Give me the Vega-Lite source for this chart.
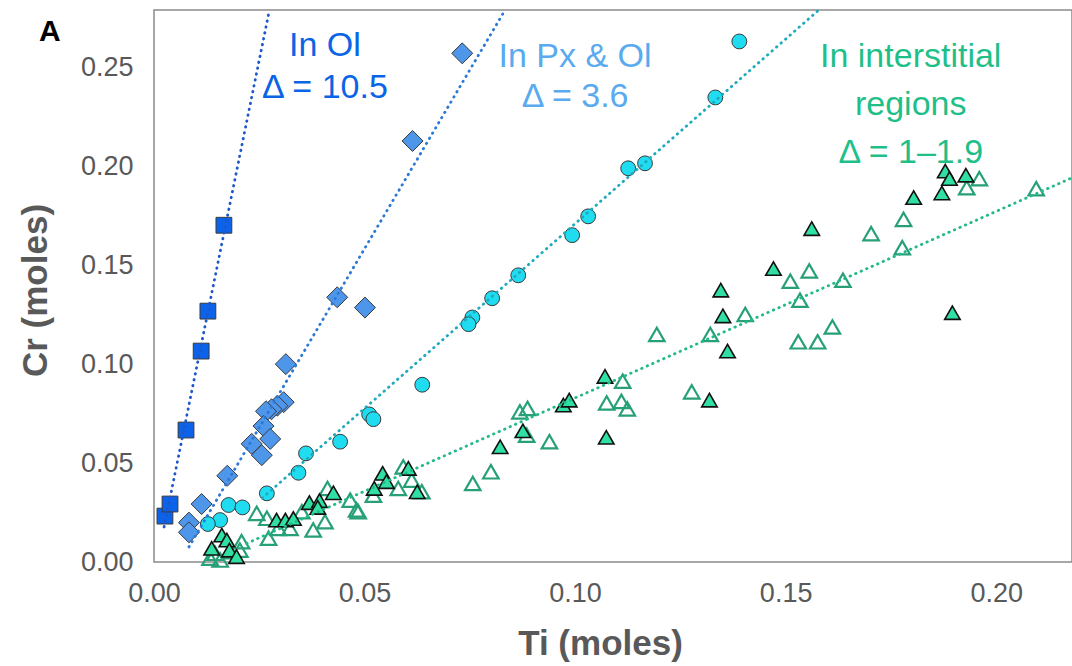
{
  "$schema": "https://vega.github.io/schema/vega-lite/v6.json",
  "width": 918,
  "height": 552,
  "autosize": {"type": "none"},
  "padding": {"left": 154, "top": 10, "right": 0, "bottom": 104},
  "background": "white",
  "config": {
    "view": {"stroke": "#8a8a8a", "strokeWidth": 1.5},
    "font": "Liberation Sans"
  },
  "title": {
    "text": "A",
    "anchor": "start",
    "frame": "group",
    "orient": "top",
    "offset": 0,
    "dx": -115,
    "dy": 42,
    "fontSize": 30,
    "fontWeight": "bold",
    "color": "#000000",
    "font": "Liberation Sans"
  },
  "datasets": {
    "pts": [
      {"ti": 0.0026, "cr": 0.0232, "grp": "ol"},
      {"ti": 0.0038, "cr": 0.0293, "grp": "ol"},
      {"ti": 0.0076, "cr": 0.0667, "grp": "ol"},
      {"ti": 0.0112, "cr": 0.1066, "grp": "ol"},
      {"ti": 0.0128, "cr": 0.1268, "grp": "ol"},
      {"ti": 0.0166, "cr": 0.1702, "grp": "ol"},

      {"ti": 0.0732, "cr": 0.2571, "grp": "pxol"},
      {"ti": 0.0614, "cr": 0.2128, "grp": "pxol"},
      {"ti": 0.0435, "cr": 0.1338, "grp": "pxol"},
      {"ti": 0.0501, "cr": 0.1286, "grp": "pxol"},
      {"ti": 0.0313, "cr": 0.1000, "grp": "pxol"},
      {"ti": 0.0308, "cr": 0.0808, "grp": "pxol"},
      {"ti": 0.0293, "cr": 0.0790, "grp": "pxol"},
      {"ti": 0.0279, "cr": 0.0772, "grp": "pxol"},
      {"ti": 0.0266, "cr": 0.0762, "grp": "pxol"},
      {"ti": 0.0260, "cr": 0.0687, "grp": "pxol"},
      {"ti": 0.0276, "cr": 0.0622, "grp": "pxol"},
      {"ti": 0.0232, "cr": 0.0597, "grp": "pxol"},
      {"ti": 0.0256, "cr": 0.0540, "grp": "pxol"},
      {"ti": 0.0174, "cr": 0.0436, "grp": "pxol"},
      {"ti": 0.0113, "cr": 0.0293, "grp": "pxol"},
      {"ti": 0.0083, "cr": 0.0199, "grp": "pxol"},
      {"ti": 0.0083, "cr": 0.0150, "grp": "pxol"},

      {"ti": 0.1390, "cr": 0.2631, "grp": "circ"},
      {"ti": 0.1333, "cr": 0.2348, "grp": "circ"},
      {"ti": 0.1166, "cr": 0.2015, "grp": "circ"},
      {"ti": 0.1126, "cr": 0.1990, "grp": "circ"},
      {"ti": 0.1031, "cr": 0.1747, "grp": "circ"},
      {"ti": 0.0993, "cr": 0.1652, "grp": "circ"},
      {"ti": 0.0865, "cr": 0.1449, "grp": "circ"},
      {"ti": 0.0803, "cr": 0.1333, "grp": "circ"},
      {"ti": 0.0756, "cr": 0.1236, "grp": "circ"},
      {"ti": 0.0747, "cr": 0.1202, "grp": "circ"},
      {"ti": 0.0637, "cr": 0.0896, "grp": "circ"},
      {"ti": 0.0511, "cr": 0.0746, "grp": "circ"},
      {"ti": 0.0521, "cr": 0.0722, "grp": "circ"},
      {"ti": 0.0442, "cr": 0.0608, "grp": "circ"},
      {"ti": 0.0361, "cr": 0.0549, "grp": "circ"},
      {"ti": 0.0343, "cr": 0.0451, "grp": "circ"},
      {"ti": 0.0268, "cr": 0.0347, "grp": "circ"},
      {"ti": 0.0177, "cr": 0.0288, "grp": "circ"},
      {"ti": 0.0210, "cr": 0.0276, "grp": "circ"},
      {"ti": 0.0157, "cr": 0.0212, "grp": "circ"},
      {"ti": 0.0128, "cr": 0.0192, "grp": "circ"},

      {"ti": 0.1879, "cr": 0.1976, "grp": "filled"},
      {"ti": 0.1889, "cr": 0.1938, "grp": "filled"},
      {"ti": 0.1928, "cr": 0.1955, "grp": "filled"},
      {"ti": 0.1871, "cr": 0.1865, "grp": "filled"},
      {"ti": 0.1804, "cr": 0.1842, "grp": "filled"},
      {"ti": 0.1562, "cr": 0.1685, "grp": "filled"},
      {"ti": 0.1471, "cr": 0.1483, "grp": "filled"},
      {"ti": 0.1346, "cr": 0.1374, "grp": "filled"},
      {"ti": 0.1351, "cr": 0.1244, "grp": "filled"},
      {"ti": 0.1362, "cr": 0.1066, "grp": "filled"},
      {"ti": 0.1896, "cr": 0.1260, "grp": "filled"},
      {"ti": 0.1071, "cr": 0.0938, "grp": "filled"},
      {"ti": 0.1319, "cr": 0.0818, "grp": "filled"},
      {"ti": 0.1074, "cr": 0.0630, "grp": "filled"},
      {"ti": 0.0972, "cr": 0.0793, "grp": "filled"},
      {"ti": 0.0986, "cr": 0.0818, "grp": "filled"},
      {"ti": 0.0876, "cr": 0.0663, "grp": "filled"},
      {"ti": 0.0822, "cr": 0.0582, "grp": "filled"},
      {"ti": 0.0604, "cr": 0.0473, "grp": "filled"},
      {"ti": 0.0543, "cr": 0.0448, "grp": "filled"},
      {"ti": 0.0552, "cr": 0.0406, "grp": "filled"},
      {"ti": 0.0523, "cr": 0.0372, "grp": "filled"},
      {"ti": 0.0625, "cr": 0.0355, "grp": "filled"},
      {"ti": 0.0426, "cr": 0.0350, "grp": "filled"},
      {"ti": 0.0369, "cr": 0.0300, "grp": "filled"},
      {"ti": 0.0393, "cr": 0.0310, "grp": "filled"},
      {"ti": 0.0389, "cr": 0.0276, "grp": "filled"},
      {"ti": 0.0291, "cr": 0.0212, "grp": "filled"},
      {"ti": 0.0312, "cr": 0.0212, "grp": "filled"},
      {"ti": 0.0331, "cr": 0.0220, "grp": "filled"},
      {"ti": 0.0161, "cr": 0.0136, "grp": "filled"},
      {"ti": 0.0173, "cr": 0.0111, "grp": "filled"},
      {"ti": 0.0137, "cr": 0.0069, "grp": "filled"},
      {"ti": 0.0179, "cr": 0.0060, "grp": "filled"},
      {"ti": 0.0196, "cr": 0.0027, "grp": "filled"},

      {"ti": 0.1960, "cr": 0.1938, "grp": "hollow"},
      {"ti": 0.1930, "cr": 0.1892, "grp": "hollow"},
      {"ti": 0.2095, "cr": 0.1887, "grp": "hollow"},
      {"ti": 0.1780, "cr": 0.1732, "grp": "hollow"},
      {"ti": 0.1703, "cr": 0.1660, "grp": "hollow"},
      {"ti": 0.1777, "cr": 0.1589, "grp": "hollow"},
      {"ti": 0.1556, "cr": 0.1471, "grp": "hollow"},
      {"ti": 0.1511, "cr": 0.1419, "grp": "hollow"},
      {"ti": 0.1636, "cr": 0.1424, "grp": "hollow"},
      {"ti": 0.1534, "cr": 0.1323, "grp": "hollow"},
      {"ti": 0.1404, "cr": 0.1251, "grp": "hollow"},
      {"ti": 0.1321, "cr": 0.1150, "grp": "hollow"},
      {"ti": 0.1194, "cr": 0.1150, "grp": "hollow"},
      {"ti": 0.1611, "cr": 0.1188, "grp": "hollow"},
      {"ti": 0.1530, "cr": 0.1113, "grp": "hollow"},
      {"ti": 0.1576, "cr": 0.1113, "grp": "hollow"},
      {"ti": 0.1113, "cr": 0.0914, "grp": "hollow"},
      {"ti": 0.1277, "cr": 0.0860, "grp": "hollow"},
      {"ti": 0.1075, "cr": 0.0804, "grp": "hollow"},
      {"ti": 0.1110, "cr": 0.0812, "grp": "hollow"},
      {"ti": 0.1124, "cr": 0.0774, "grp": "hollow"},
      {"ti": 0.0869, "cr": 0.0759, "grp": "hollow"},
      {"ti": 0.0887, "cr": 0.0776, "grp": "hollow"},
      {"ti": 0.0885, "cr": 0.0641, "grp": "hollow"},
      {"ti": 0.0939, "cr": 0.0608, "grp": "hollow"},
      {"ti": 0.0757, "cr": 0.0397, "grp": "hollow"},
      {"ti": 0.0800, "cr": 0.0456, "grp": "hollow"},
      {"ti": 0.0592, "cr": 0.0481, "grp": "hollow"},
      {"ti": 0.0612, "cr": 0.0414, "grp": "hollow"},
      {"ti": 0.0580, "cr": 0.0372, "grp": "hollow"},
      {"ti": 0.0636, "cr": 0.0355, "grp": "hollow"},
      {"ti": 0.0521, "cr": 0.0338, "grp": "hollow"},
      {"ti": 0.0485, "cr": 0.0254, "grp": "hollow"},
      {"ti": 0.0466, "cr": 0.0313, "grp": "hollow"},
      {"ti": 0.0412, "cr": 0.0372, "grp": "hollow"},
      {"ti": 0.0481, "cr": 0.0263, "grp": "hollow"},
      {"ti": 0.0406, "cr": 0.0204, "grp": "hollow"},
      {"ti": 0.0378, "cr": 0.0162, "grp": "hollow"},
      {"ti": 0.0351, "cr": 0.0254, "grp": "hollow"},
      {"ti": 0.0244, "cr": 0.0246, "grp": "hollow"},
      {"ti": 0.0268, "cr": 0.0221, "grp": "hollow"},
      {"ti": 0.0272, "cr": 0.0120, "grp": "hollow"},
      {"ti": 0.0295, "cr": 0.0170, "grp": "hollow"},
      {"ti": 0.0323, "cr": 0.0170, "grp": "hollow"},
      {"ti": 0.0208, "cr": 0.0103, "grp": "hollow"},
      {"ti": 0.0133, "cr": 0.0019, "grp": "hollow"},
      {"ti": 0.0157, "cr": 0.0010, "grp": "hollow"},
      {"ti": 0.0180, "cr": 0.0052, "grp": "hollow"},
      {"ti": 0.0145, "cr": 0.0044, "grp": "hollow"},
      {"ti": 0.0204, "cr": 0.0060, "grp": "hollow"}
    ],
    "lines": [
      {"ti": 0.0024, "cr": 0.0177, "grp": "ol"},
      {"ti": 0.0273, "cr": 0.2778, "grp": "ol"},
      {"ti": 0.0083, "cr": 0.0076, "grp": "pxol"},
      {"ti": 0.0829, "cr": 0.2773, "grp": "pxol"},
      {"ti": 0.0257, "cr": 0.0323, "grp": "circ"},
      {"ti": 0.1576, "cr": 0.2785, "grp": "circ"},
      {"ti": 0.0220, "cr": 0.0094, "grp": "tri"},
      {"ti": 0.2180, "cr": 0.1942, "grp": "tri"}
    ],
    "labels": [
      {"ti": 0.0406, "cr": 0.2555, "grp": "ol", "txt": "In Ol"},
      {"ti": 0.0406, "cr": 0.2344, "grp": "ol", "txt": "Δ = 10.5"},
      {"ti": 0.1000, "cr": 0.2503, "grp": "pxol", "txt": "In Px & Ol"},
      {"ti": 0.1000, "cr": 0.2300, "grp": "pxol", "txt": "Δ = 3.6"},
      {"ti": 0.1797, "cr": 0.2503, "grp": "inter", "txt": "In interstitial"},
      {"ti": 0.1797, "cr": 0.2260, "grp": "inter", "txt": "regions"},
      {"ti": 0.1797, "cr": 0.2017, "grp": "inter", "txt": "Δ = 1–1.9"}
    ]
  },
  "encoding": {
    "x": {
      "field": "ti",
      "type": "quantitative",
      "scale": {"domain": [0, 0.218], "nice": false, "zero": false},
      "axis": {
        "values": [0, 0.05, 0.1, 0.15, 0.2],
        "format": ".2f",
        "ticks": false,
        "grid": false,
        "domain": false,
        "labelFlush": false,
        "labelFont": "Liberation Sans",
        "labelFontSize": 27,
        "labelColor": "#595959",
        "labelPadding": 18,
        "title": "Ti (moles)",
        "titleFont": "Liberation Sans",
        "titleFontSize": 35,
        "titleFontWeight": "bold",
        "titleColor": "#595959",
        "titlePadding": 20,
        "titleX": 446
      }
    },
    "y": {
      "field": "cr",
      "type": "quantitative",
      "scale": {"domain": [0, 0.279], "nice": false, "zero": false},
      "axis": {
        "values": [0, 0.05, 0.1, 0.15, 0.2, 0.25],
        "format": ".2f",
        "ticks": false,
        "grid": false,
        "domain": false,
        "labelFont": "Liberation Sans",
        "labelFontSize": 27,
        "labelColor": "#595959",
        "labelPadding": 21,
        "title": "Cr (moles)",
        "titleFont": "Liberation Sans",
        "titleFontSize": 35,
        "titleFontWeight": "bold",
        "titleColor": "#595959",
        "titlePadding": 27,
        "titleY": 280
      }
    }
  },
  "layer": [
    {
      "data": {"name": "pts"},
      "transform": [{"filter": "datum.grp === 'hollow'"}],
      "mark": {"type": "point", "shape": "triangle-up", "size": 240, "filled": false, "stroke": "#27a078", "strokeWidth": 2.2, "opacity": 1}
    },
    {
      "data": {"name": "pts"},
      "transform": [{"filter": "datum.grp === 'filled'"}],
      "mark": {"type": "point", "shape": "triangle-up", "size": 240, "filled": true, "fill": "#2fe0a2", "stroke": "#111111", "strokeWidth": 1.6, "opacity": 1, "fillOpacity": 1}
    },
    {
      "data": {"name": "pts"},
      "transform": [{"filter": "datum.grp === 'circ'"}],
      "mark": {"type": "point", "shape": "circle", "size": 220, "filled": true, "fill": "#1fdcf0", "stroke": "#3a3a3a", "strokeWidth": 1, "opacity": 1, "fillOpacity": 1}
    },
    {
      "data": {"name": "pts"},
      "transform": [{"filter": "datum.grp === 'pxol'"}],
      "mark": {"type": "point", "shape": "diamond", "size": 440, "filled": true, "fill": "#4d96ea", "stroke": "#3a3a3a", "strokeWidth": 1, "opacity": 1, "fillOpacity": 1}
    },
    {
      "data": {"name": "pts"},
      "transform": [{"filter": "datum.grp === 'ol'"}],
      "mark": {"type": "point", "shape": "square", "size": 250, "filled": true, "fill": "#0d62ea", "stroke": "#3a3a3a", "strokeWidth": 1, "opacity": 1, "fillOpacity": 1}
    },
    {
      "data": {"name": "lines"},
      "mark": {"type": "line", "strokeDash": [0.5, 5.5], "strokeCap": "round", "strokeWidth": 2.8},
      "encoding": {
        "color": {
          "field": "grp",
          "type": "nominal",
          "scale": {"domain": ["ol", "pxol", "circ", "tri"], "range": ["#1d57c9", "#2b78d6", "#1fa9bd", "#22b98c"]},
          "legend": null
        }
      }
    },
    {
      "data": {"name": "labels"},
      "mark": {"type": "text", "fontSize": 34, "font": "Liberation Sans", "baseline": "alphabetic", "align": "center"},
      "encoding": {
        "text": {"field": "txt", "type": "nominal"},
        "color": {
          "field": "grp",
          "type": "nominal",
          "scale": {"domain": ["ol", "pxol", "inter"], "range": ["#0a64e6", "#5aaaf0", "#1fbf8a"]},
          "legend": null
        }
      }
    }
  ],
  "resolve": {"scale": {"color": "independent"}}
}
